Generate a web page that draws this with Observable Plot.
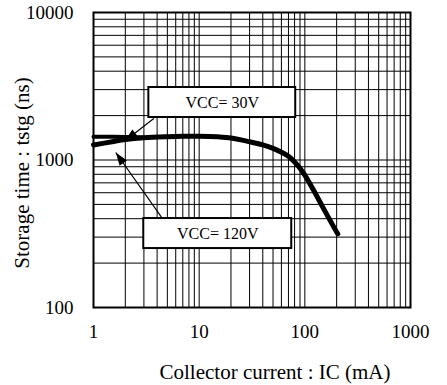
<!DOCTYPE html>
<html><head><meta charset="utf-8">
<script src="https://cdn.jsdelivr.net/npm/d3@7"></script>
<script src="https://cdn.jsdelivr.net/npm/@observablehq/plot@0.6"></script>
<style>html,body{margin:0;padding:0;background:#fff}</style>
</head><body><div id="chart"></div>
<script>
// Curves
const ic120 = [1, 1.5, 2, 3, 5, 7, 10, 15, 20, 30, 40, 50, 60, 70, 80, 90, 100, 120, 150, 200, 205];
const ts120 = [1265, 1330, 1375, 1415, 1440, 1450, 1450, 1435, 1410, 1330, 1265, 1200, 1130, 1060, 970, 880, 790, 630, 470, 325, 316];
const ic30 = [1, 1.5, 2, 2.5, 3];
const ts30 = [1435, 1435, 1432, 1428, 1420];

// Axes / grid
const xTicks = [1, 10, 100, 1000];
const yTicks = [100, 1000, 10000];
const xGrid = [1,2,3,4,5,6,7,8,9,10,20,30,40,50,60,70,80,90,100,200,300,400,500,600,700,800,900,1000];
const yGrid = [100,200,300,400,500,600,700,800,900,1000,2000,3000,4000,5000,6000,7000,8000,9000,10000];
const xLabel = "Collector current : IC (mA)";
const yLabel = "Storage time : tstg (ns)";

// Annotation boxes (data coordinates)
const boxLabels = ["VCC= 30V", "VCC= 120V"];
const boxX1 = [3.34, 2.99];
const boxX2 = [82, 75.2];
const boxY1 = [1941, 251];
const boxY2 = [3101, 401];

// Annotation arrows (data coordinates)
const arrowTailX = [3.72, 4.43];
const arrowTailY = [1912, 407];
const arrowTipX = [1.98, 1.625];
const arrowTipY = [1345, 1124];

const W = 447, H = 385;
const mL = 93, mR = 37, mT = 12, mB = 78;
const kx = (W - mL - mR) / 3, ky = (H - mT - mB) / 2;

const curve120 = ic120.map((x, i) => ({x, y: ts120[i]}));
const curve30 = ic30.map((x, i) => ({x, y: ts30[i]}));
const boxes = boxLabels.map((label, i) => ({label, x1: boxX1[i], x2: boxX2[i], y1: boxY1[i], y2: boxY2[i],
  cx: Math.sqrt(boxX1[i] * boxX2[i]), cy: Math.sqrt(boxY1[i] * boxY2[i])}));
const arrows = arrowTailX.map((x, i) => {
  const dxs = kx * (Math.log10(arrowTipX[i]) - Math.log10(x));
  const dys = -ky * (Math.log10(arrowTipY[i]) - Math.log10(arrowTailY[i]));
  const ang = Math.atan2(dys, dxs);
  return {x1: x, y1: arrowTailY[i], x2: arrowTipX[i], y2: arrowTipY[i], ang};
});

function headSymbol(ang) {
  const L = 13, w = 4.5;
  const c = Math.cos(ang), s = Math.sin(ang);
  const bx = -L * c, by = -L * s;
  const px = -s * w, py = c * w;
  return {draw(ctx) {
    ctx.moveTo(0, 0);
    ctx.lineTo(bx + px, by + py);
    ctx.lineTo(bx - px, by - py);
    ctx.closePath();
  }};
}

const plot = Plot.plot({
  width: W, height: H,
  marginLeft: mL, marginRight: mR, marginTop: mT, marginBottom: mB,
  style: {fontFamily: "'Liberation Serif', 'Times New Roman', serif", fontSize: "19px", background: "white", color: "black"},
  x: {type: "log", domain: [1, 1000], ticks: xTicks, tickFormat: d => String(d), tickSize: 0, tickPadding: 17, label: null},
  y: {type: "log", domain: [100, 10000], ticks: yTicks, tickFormat: d => String(d), tickSize: 0, tickPadding: 20, label: null},
  marks: [
    Plot.ruleX(xGrid, {stroke: "black", strokeWidth: 1}),
    Plot.ruleY(yGrid, {stroke: "black", strokeWidth: 1}),
    Plot.line(curve30, {x: "x", y: "y", stroke: "black", strokeWidth: 4}),
    Plot.line(curve120, {x: "x", y: "y", curve: "catmull-rom", stroke: "black", strokeWidth: 5, strokeLinecap: "round", strokeLinejoin: "round"}),
    Plot.link(arrows, {x1: "x1", y1: "y1", x2: "x2", y2: "y2", stroke: "black", strokeWidth: 1.2}),
    ...arrows.map(a => Plot.dot([a], {x: "x2", y: "y2", symbol: headSymbol(a.ang), r: 5, fill: "black", stroke: "none"})),
    Plot.rect(boxes, {x1: "x1", x2: "x2", y1: "y1", y2: "y2", fill: "white", stroke: "black", strokeWidth: 2}),
    Plot.text(boxes, {x: "cx", y: "cy", text: "label", fontSize: 16, fill: "black", textAnchor: "middle", lineAnchor: "middle"}),
    Plot.text([xLabel], {frameAnchor: "bottom", dx: 23, dy: 65, fontSize: 21, fill: "black", textAnchor: "middle", lineAnchor: "middle"}),
    Plot.text([yLabel], {frameAnchor: "left", rotate: -90, dx: -71, dy: 13, fontSize: 21, fill: "black", textAnchor: "middle", lineAnchor: "middle"}),
    Plot.frame({stroke: "black", strokeWidth: 2})
  ]
});
document.getElementById("chart").appendChild(plot);
</script></body></html>
